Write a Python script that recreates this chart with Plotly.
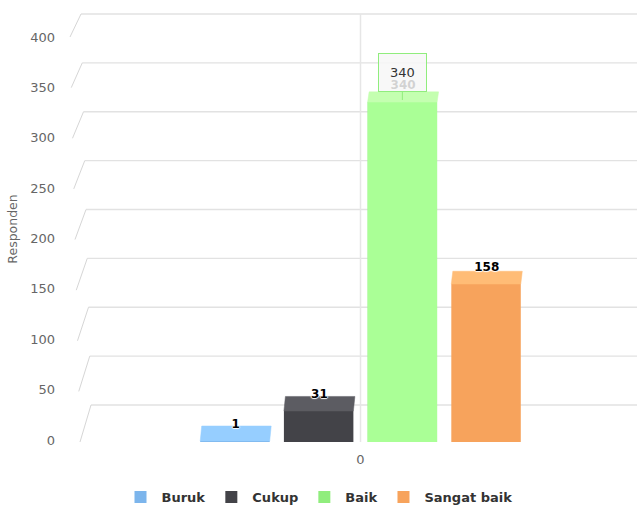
import plotly.graph_objects as go

# ---------------- data ----------------
categories = ["0"]
series_names = ["Buruk", "Cukup", "Baik", "Sangat baik"]
series_values = [1, 31, 340, 158]
series_colors = ["#7cb5ec", "#434348", "#90ed7d", "#f7a35c"]
y_ticks = [0, 50, 100, 150, 200, 250, 300, 350, 400]
y_title = "Responden"
hovered_series = "Baik"

# ---------------- geometry (pixels) ----------------
W, H = 637, 509
M_L, M_R, M_T, M_B = 60, 0, 8, 59
ZERO_PX = 442          # front base of the columns
SLOT_PX = 83.7         # distance between column centres
CENTER_PX = 360.5      # category centre
BAR_FRAC = 0.83        # column width as fraction of slot

plot_top, plot_bot = M_T, H - M_B
y_lo, y_hi = -(plot_bot - ZERO_PX), ZERO_PX - plot_top
x_lo = (M_L - CENTER_PX) / SLOT_PX
x_hi = (W - M_R - CENTER_PX) / SLOT_PX


def px_x(px):
    return (px - CENTER_PX) / SLOT_PX


# perspective of the 3D "wall"
def front_u(v):
    return 1.0125 * v


def back_u(v):
    return 37 + 0.9775 * v


def front_x(v):
    return px_x(80 - 0.025 * v)


def back_x(v):
    return px_x(91 - 0.025 * v)


def depth_px(v):
    return 15 - v / 70.0


DX = 1.5 / SLOT_PX
LABEL_OFFSET = 16.5

# label axis mapping (labels sit at the front edge)
LBL0_PX, LBL_SCALE = 440, 1.0075
y2_lo = (LBL0_PX - plot_bot) / LBL_SCALE
y2_hi = (LBL0_PX - plot_top) / LBL_SCALE


def brighten(hexc, a):
    hexc = hexc.lstrip("#")
    r, g, b = [int(hexc[i:i + 2], 16) for i in (0, 2, 4)]
    f = lambda c: max(0, min(255, int(round(c + 255 * a))))
    return "#%02x%02x%02x" % (f(r), f(g), f(b))


FONT = "DejaVu Sans, Verdana, sans-serif"
fig = go.Figure()

n = len(series_names)
bw = BAR_FRAC
positions = [i - (n - 1) / 2 for i in range(n)]

for name, val, col, pos in zip(series_names, series_values, series_colors, positions):
    fig.add_trace(go.Bar(
        x=[pos], y=[val], width=[bw], name=name,
        marker=dict(color=col, line=dict(width=0)),
        hoverinfo="skip",
    ))

# hovered column (brightened) + top faces + labels
for name, val, col, pos in zip(series_names, series_values, series_colors, positions):
    front = brighten(col, 0.1) if name == hovered_series else col
    if name == hovered_series:
        fig.add_trace(go.Bar(
            x=[pos], y=[val], width=[bw], showlegend=False,
            marker=dict(color=front, line=dict(width=0)), hoverinfo="skip",
        ))
    top = brighten(front, 0.1)
    d = depth_px(val)
    x0, x1 = pos - bw / 2, pos + bw / 2
    fig.add_trace(go.Scatter(
        x=[x0, x1, x1 + DX, x0 + DX, x0],
        y=[val, val, val + d, val + d, val],
        fill="toself", fillcolor=top, mode="lines",
        line=dict(color=top, width=0.5),
        showlegend=False, hoverinfo="skip",
    ))
    fig.add_trace(go.Scatter(
        x=[pos + DX / 2], y=[val + LABEL_OFFSET], mode="text",
        text=[str(val)], textposition="middle center",
        textfont=dict(family=FONT, size=12, color="#000000", weight="bold",
                      shadow="1px 0 1px #fff, -1px 0 1px #fff, 0 1px 1px #fff, 0 -1px 1px #fff"),
        showlegend=False, hoverinfo="skip",
    ))

# dummy trace for the label axis
fig.add_trace(go.Scatter(x=[0], y=[0], yaxis="y2", mode="markers",
                         marker=dict(opacity=0), showlegend=False, hoverinfo="skip"))

# wall grid (back lines + slanted side lines) and category grid line
shapes = []
for v in y_ticks:
    shapes.append(dict(type="line", xref="x", yref="y", layer="below",
                       x0=back_x(v), x1=x_hi, y0=back_u(v), y1=back_u(v),
                       line=dict(color="#e2e2e2", width=1.3)))
    shapes.append(dict(type="line", xref="x", yref="y", layer="below",
                       x0=front_x(v), x1=back_x(v), y0=front_u(v), y1=back_u(v),
                       line=dict(color="#d6d6d6", width=1)))
shapes.append(dict(type="line", xref="x", yref="y", layer="below",
                   x0=0, x1=0, y0=0, y1=back_u(max(y_ticks)),
                   line=dict(color="#e6e6e6", width=1.5)))

# tooltip for hovered column
hi = series_names.index(hovered_series)
annotations = [dict(
    x=positions[hi], y=series_values[hi] + 2, xref="x", yref="y",
    text=str(series_values[hi]), showarrow=True, arrowhead=0,
    arrowcolor=series_colors[hi], arrowwidth=1, ax=0, ay=-28,
    bgcolor="rgba(247,247,247,0.85)", bordercolor=series_colors[hi],
    borderwidth=1, borderpad=11,
    font=dict(family=FONT, size=13, color="#333333"),
)]

fig.update_layout(
    width=W, height=H,
    margin=dict(l=M_L, r=M_R, t=M_T, b=M_B, pad=0),
    paper_bgcolor="#ffffff", plot_bgcolor="#ffffff",
    barmode="overlay", hovermode=False,
    shapes=shapes, annotations=annotations,
    xaxis=dict(range=[x_lo, x_hi], tickvals=[0], ticktext=categories,
               showgrid=False, zeroline=False, showline=False, ticks="",
               tickfont=dict(family=FONT, size=13, color="#666666")),
    yaxis=dict(range=[y_lo, y_hi], showgrid=False, zeroline=False,
               showticklabels=False, showline=False, ticks=""),
    yaxis2=dict(range=[y2_lo, y2_hi], overlaying="y", side="left",
                tickvals=y_ticks, showgrid=False, zeroline=False, showline=False,
                ticks="", ticklabelstandoff=4,
                tickfont=dict(family=FONT, size=13, color="#666666"),
                title=dict(text=y_title, standoff=9,
                           font=dict(family=FONT, size=12.5, color="#666666"))),
    legend=dict(orientation="h", xref="container", yref="container",
                x=0.5, xanchor="center", y=1 - 497 / H, yanchor="middle",
                itemwidth=32,
                font=dict(family=FONT, size=13, color="#333333", weight="bold"),
                itemclick=False, itemdoubleclick=False),
    font=dict(family=FONT),
)

fig.write_html("out.html")
